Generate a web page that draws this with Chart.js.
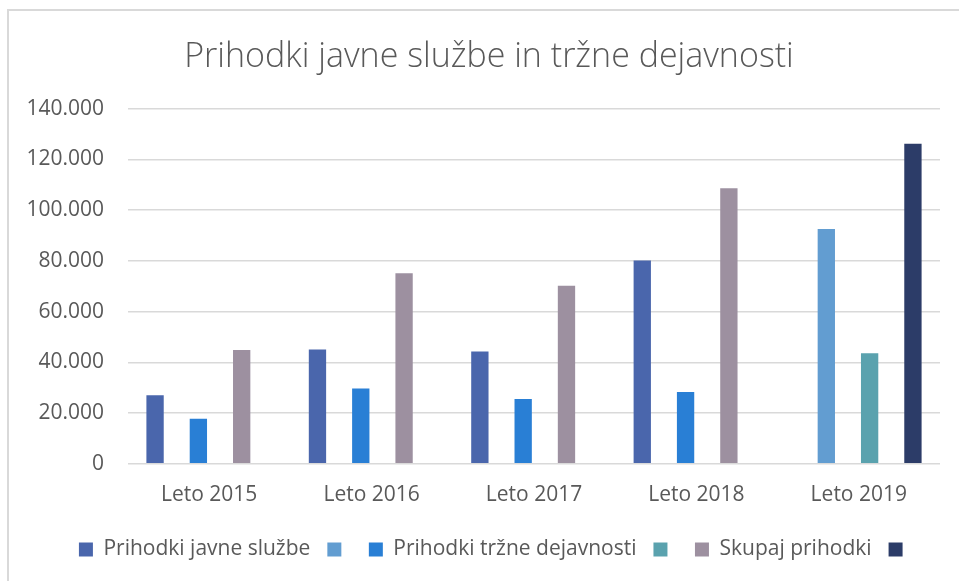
<!DOCTYPE html>
<html>
<head>
<meta charset="utf-8">
<script src="https://cdn.jsdelivr.net/npm/chart.js@4/dist/chart.umd.min.js"></script>
<style>
  html, body { margin: 0; padding: 0; background: #ffffff; }
  #wrap { position: relative; width: 959px; height: 581px; overflow: hidden; }
  #frame { position: absolute; left: 7px; top: 9px; width: 1000px; height: 700px;
           border-left: 2px solid #d9d9d9; border-top: 2px solid #d9d9d9; }
  canvas { position: absolute; left: 0; top: 0; }
</style>
</head>
<body>
<div id="wrap">
  <div id="frame"></div>
  <canvas id="c" width="959" height="581"></canvas>
</div>
<script>
const title = 'Prihodki javne službe in tržne dejavnosti';
const categories = ['Leto 2015', 'Leto 2016', 'Leto 2017', 'Leto 2018', 'Leto 2019'];
const seriesNames = ['Prihodki javne službe', '', 'Prihodki tržne dejavnosti', '', 'Skupaj prihodki', ''];
const javneSluzbe   = [27000, 45100, 44300, 80200, null];
const unnamed1      = [null, null, null, null, 92600];
const trzneDejav    = [17800, 29700, 25600, 28300, null];
const unnamed2      = [null, null, null, null, 43600];
const skupaj        = [44900, 75150, 70200, 108700, null];
const unnamed3      = [null, null, null, null, 126200];
const yTickValues   = [0, 20000, 40000, 60000, 80000, 100000, 120000, 140000];
const colors = ['#4A66AC', '#629DD1', '#297FD5', '#5AA2AE', '#9D90A0', '#2C3C68'];

const seriesData = [javneSluzbe, unnamed1, trzneDejav, unnamed2, skupaj, unnamed3];

function fmt(v) {
  return String(v).replace(/\B(?=(\d{3})+(?!\d))/g, '.');
}

const FONT = "'Open Sans', sans-serif";

const legendNudge = {
  id: 'legendNudge',
  afterLayout(chart) {
    if (chart.legend) { chart.legend.left += 14; }
  }
};

new Chart(document.getElementById('c'), {
  type: 'bar',
  data: {
    labels: categories,
    datasets: seriesData.map((d, i) => ({
      label: seriesNames[i],
      data: d,
      backgroundColor: colors[i],
      borderWidth: 0,
      categoryPercentage: 0.8,
      barPercentage: 0.8
    }))
  },
  plugins: [legendNudge],
  options: {
    responsive: false,
    animation: false,
    devicePixelRatio: 1,
    layout: { padding: { left: 19, right: 0, top: 0, bottom: 11 } },
    plugins: {
      tooltip: { enabled: false },
      title: {
        display: true,
        text: title,
        color: '#595959',
        font: { family: FONT, size: 34, weight: '300', lineHeight: 1.2 },
        padding: { top: 37, bottom: 31 }
      },
      legend: {
        position: 'bottom',
        labels: {
          boxWidth: 14,
          boxHeight: 14,
          padding: 17,
          color: '#595959',
          font: { family: FONT, size: 21 }
        }
      }
    },
    scales: {
      x: {
        grid: { display: false, drawTicks: false },
        border: { display: false },
        afterFit: (s) => { s.height -= 5; },
        ticks: { color: '#595959', font: { family: FONT, size: 21 }, padding: 19 }
      },
      y: {
        min: 0,
        max: 140000,
        afterFit: (s) => { s.width = 109; },
        afterBuildTicks: (s) => { s.ticks = yTickValues.map(v => ({ value: v })); },
        grid: { color: '#d9d9d9', lineWidth: 1.5, drawTicks: false },
        border: { display: false },
        ticks: {
          color: '#595959',
          font: { family: FONT, size: 21 },
          padding: 24,
          callback: (v) => fmt(v)
        }
      },
      yRightSpace: {
        position: 'right',
        display: true,
        grid: { display: false, drawTicks: false },
        border: { display: false },
        ticks: { display: false },
        afterFit: (s) => { s.width = 19; }
      }
    }
  }
});
</script>
</body>
</html>
